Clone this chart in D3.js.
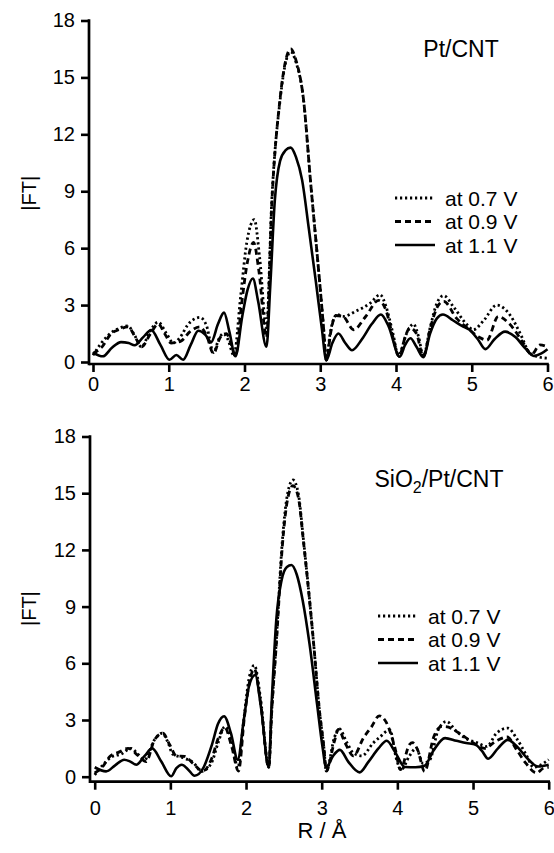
<!DOCTYPE html>
<html>
<head>
<meta charset="utf-8">
<script src="https://cdn.jsdelivr.net/npm/d3@7"></script>
<style>
  body { margin: 0; background: #fff; }
  svg text { font-family: "Liberation Sans", Arial, sans-serif; fill: #000; }
</style>
</head>
<body>
<script>
var WIDTH = 554, HEIGHT = 853

// tick values
var xTicks = [0, 1, 2, 3, 4, 5, 6]
var yTicks = [0, 3, 6, 9, 12, 15, 18]
var legendLabels = ["at 0.7 V", "at 0.9 V", "at 1.1 V"]

// Pt/CNT  [R, |FT|]
var top07 = [[0,0.35],[0.11,1.0],[0.26,1.6],[0.36,1.8],[0.46,1.9],[0.55,1.4],[0.64,0.8],[0.75,1.6],[0.86,2.1],[0.97,1.5],[1.06,1.0],[1.15,1.3],[1.25,1.95],[1.41,2.35],[1.50,1.9],[1.59,0.5],[1.66,1.2],[1.72,1.5],[1.78,1.2],[1.86,0.35],[1.95,3.5],[2.03,6.3],[2.13,7.5],[2.20,5.5],[2.29,1.8],[2.36,8.5],[2.47,13.8],[2.55,15.9],[2.61,16.35],[2.68,15.8],[2.78,13.8],[2.87,9.6],[2.99,4.3],[3.04,2.0],[3.08,0.1],[3.13,1.5],[3.22,2.5],[3.30,2.4],[3.48,2.7],[3.66,3.1],[3.79,3.55],[3.87,2.9],[3.96,1.5],[4.03,0.35],[4.14,1.5],[4.23,2.0],[4.30,1.3],[4.36,0.3],[4.45,1.8],[4.54,3.1],[4.63,3.5],[4.76,2.9],[4.93,2.0],[5.02,1.7],[5.16,2.2],[5.33,3.0],[5.51,2.45],[5.64,1.5],[5.77,0.45],[5.9,0.25],[6.0,0.2]]
var top09 = [[0,0.45],[0.12,0.8],[0.24,1.5],[0.34,1.7],[0.46,1.85],[0.58,1.15],[0.64,0.8],[0.76,1.5],[0.86,2.0],[0.96,1.4],[1.03,1.0],[1.16,1.1],[1.28,1.6],[1.41,1.85],[1.50,1.4],[1.59,0.45],[1.68,1.3],[1.76,1.5],[1.82,1.0],[1.88,0.3],[1.96,3.0],[2.04,5.3],[2.12,6.3],[2.19,4.8],[2.29,1.3],[2.36,8.3],[2.47,13.9],[2.55,16.0],[2.61,16.5],[2.68,15.9],[2.78,13.8],[2.87,9.6],[2.99,4.3],[3.04,2.0],[3.08,0.1],[3.14,1.6],[3.2,2.45],[3.3,2.4],[3.44,1.7],[3.6,2.4],[3.77,3.25],[3.87,2.7],[3.96,1.3],[4.04,0.3],[4.12,1.3],[4.18,1.8],[4.27,1.5],[4.36,0.3],[4.46,1.9],[4.56,3.0],[4.63,3.2],[4.8,2.3],[4.97,1.7],[5.1,1.3],[5.2,1.15],[5.35,2.4],[5.5,2.0],[5.68,1.0],[5.79,0.4],[5.9,0.9],[6.0,0.8]]
var top11 = [[0,0.5],[0.13,0.3],[0.25,0.75],[0.37,1.05],[0.47,1.0],[0.55,0.88],[0.66,1.3],[0.77,1.68],[0.89,0.9],[1.01,0.12],[1.10,0.37],[1.19,0.12],[1.29,0.9],[1.39,1.65],[1.48,1.45],[1.56,1.05],[1.65,2.0],[1.73,2.6],[1.80,1.6],[1.88,0.3],[1.97,2.4],[2.04,3.8],[2.11,4.4],[2.18,3.2],[2.29,0.8],[2.34,4],[2.40,8.5],[2.47,10.6],[2.54,11.15],[2.61,11.3],[2.68,10.8],[2.76,9.6],[2.85,7.0],[2.94,4.3],[3.02,1.8],[3.08,0.1],[3.16,1.0],[3.24,1.5],[3.33,1.0],[3.42,0.62],[3.55,1.2],[3.68,2.0],[3.80,2.5],[3.90,1.9],[4.05,0.28],[4.12,0.9],[4.19,1.25],[4.27,0.8],[4.36,0.25],[4.45,1.5],[4.54,2.3],[4.62,2.5],[4.75,2.2],[4.87,1.9],[4.97,1.7],[5.08,1.2],[5.18,0.68],[5.30,1.2],[5.44,1.6],[5.58,1.3],[5.70,0.75],[5.82,0.32],[5.92,0.45],[6.0,0.67]]

// SiO2/Pt/CNT  [R, |FT|]
var bot07 = [[0,0.1],[0.11,0.63],[0.22,1.04],[0.35,1.2],[0.48,1.5],[0.57,1.2],[0.66,0.9],[0.79,1.95],[0.89,2.3],[0.97,1.8],[1.03,1.2],[1.17,1.0],[1.31,0.72],[1.41,0.28],[1.54,0.7],[1.63,1.78],[1.72,2.65],[1.82,1.78],[1.89,0.45],[1.97,3.0],[2.04,5.2],[2.11,5.9],[2.19,4.2],[2.30,0.5],[2.34,3.5],[2.40,7.2],[2.48,12.5],[2.55,15.0],[2.62,15.7],[2.69,15.0],[2.76,12.5],[2.89,7.2],[2.97,3.5],[3.03,1.5],[3.06,0.3],[3.17,2.1],[3.23,2.55],[3.33,1.83],[3.42,1.25],[3.53,1.1],[3.68,1.78],[3.77,2.1],[3.9,2.48],[3.99,0.9],[4.05,0.37],[4.16,1.1],[4.25,1.5],[4.34,0.7],[4.43,0.9],[4.54,2.48],[4.65,2.92],[4.78,2.4],[4.92,2.0],[5.05,1.8],[5.18,1.6],[5.31,2.3],[5.46,2.57],[5.58,2.0],[5.71,1.1],[5.8,0.5],[5.88,0.6],[6.0,0.9]]
var bot09 = [[0,0.2],[0.1,0.5],[0.2,1.07],[0.32,1.3],[0.44,1.5],[0.58,1.1],[0.68,0.8],[0.79,1.95],[0.9,2.3],[0.99,1.7],[1.08,1.1],[1.19,1.07],[1.3,0.7],[1.43,0.3],[1.55,1.0],[1.63,2.0],[1.72,2.6],[1.81,1.6],[1.9,0.3],[1.98,3.2],[2.05,5.1],[2.11,5.7],[2.19,4.0],[2.30,0.5],[2.34,3.5],[2.40,7.0],[2.48,12.2],[2.55,14.7],[2.62,15.4],[2.69,14.8],[2.76,12.4],[2.89,7.2],[2.97,3.5],[3.03,1.5],[3.06,0.3],[3.17,1.9],[3.22,2.5],[3.31,1.78],[3.42,1.1],[3.55,2.04],[3.66,2.65],[3.76,3.22],[3.85,2.9],[3.97,1.5],[4.04,0.37],[4.16,1.7],[4.2,1.8],[4.27,1.4],[4.36,0.28],[4.48,2.1],[4.58,2.65],[4.63,2.65],[4.82,2.3],[5.0,1.8],[5.15,1.5],[5.31,1.9],[5.45,2.1],[5.58,1.4],[5.7,0.7],[5.84,0.2],[5.93,0.45],[6.0,0.5]]
var bot11 = [[0,0.5],[0.15,0.28],[0.27,0.6],[0.39,0.9],[0.47,0.8],[0.55,0.63],[0.66,1.1],[0.76,1.5],[0.88,0.8],[1.01,0.02],[1.08,0.45],[1.15,0.63],[1.23,0.4],[1.32,0.05],[1.44,0.5],[1.55,1.7],[1.63,2.8],[1.71,3.2],[1.80,2.3],[1.89,0.9],[1.97,3.0],[2.04,4.8],[2.12,5.38],[2.20,3.6],[2.30,0.5],[2.34,4],[2.40,8.3],[2.47,10.4],[2.54,11.1],[2.60,11.2],[2.67,10.7],[2.75,9.3],[2.84,7.0],[2.94,3.8],[3.01,1.6],[3.06,0.5],[3.15,1.1],[3.24,1.42],[3.35,0.8],[3.50,0.23],[3.62,0.8],[3.75,1.5],[3.86,1.9],[3.97,1.3],[4.10,0.51],[4.24,0.5],[4.36,0.58],[4.48,1.4],[4.63,2.04],[4.78,1.9],[4.91,1.78],[5.03,1.7],[5.12,1.35],[5.2,0.95],[5.33,1.5],[5.46,1.95],[5.58,1.6],[5.71,1.0],[5.86,0.54],[6.0,0.63]]

var dashes = ["2.2,2.8", "6,4", null]

var svg = d3.select('body').append('svg')
	.attr('width', WIDTH)
	.attr('height', HEIGHT)

var panels = [
	{series: [top07, top09, top11],
	 xr: [93, 547.5], yr: [362, 20.5], axisX: 89, axisY: 364, labelPad: 5,
	 legX: 395, legY: 198},
	{series: [bot07, bot09, bot11],
	 xr: [94.7, 548.7], yr: [776.7, 436.5], axisX: 90, axisY: 781.7, labelPad: 11,
	 legX: 378, legY: 616}
]

panels.forEach(function(p){
	var x = d3.scaleLinear().domain([0, 6]).range(p.xr)
	var y = d3.scaleLinear().domain([0, 18]).range(p.yr)
	var g = svg.append('g')

	// y axis
	var ya = g.append('g')
		.attr('transform', 'translate(' + p.axisX + ',0)')
		.call(d3.axisLeft(y).tickValues(yTicks).tickFormat(d3.format('d'))
			.tickSize(8).tickSizeOuter(0).tickPadding(6))
	ya.select('.domain').remove()
	ya.selectAll('line').attr('stroke-width', 2.6)
	ya.selectAll('text').style('font-size', '20px')
	ya.append('line')
		.attr('x1', 0).attr('x2', 0)
		.attr('y1', y(18) - 1.3).attr('y2', p.axisY + 1.3)
		.attr('stroke', '#000').attr('stroke-width', 2.7)

	// x axis
	var xa = g.append('g')
		.attr('transform', 'translate(0,' + p.axisY + ')')
		.call(d3.axisBottom(x).tickValues(xTicks).tickFormat(d3.format('d'))
			.tickSize(8).tickSizeOuter(0).tickPadding(p.labelPad))
	xa.select('.domain').remove()
	xa.selectAll('line').attr('stroke-width', 2.6)
	xa.selectAll('text').style('font-size', '20px')
	xa.append('line')
		.attr('x1', p.axisX).attr('x2', x(6) + 1.3)
		.attr('y1', 0).attr('y2', 0)
		.attr('stroke', '#000').attr('stroke-width', 2.7)

	var line = d3.line()
		.x(function(d){ return x(d[0]) })
		.y(function(d){ return y(d[1]) })
		.curve(d3.curveMonotoneX)

	p.series.forEach(function(s, i){
		g.append('path')
			.datum(s)
			.attr('d', line)
			.attr('fill', 'none')
			.attr('stroke', '#000')
			.attr('stroke-width', i == 2 ? 2.6 : 2.8)
			.attr('stroke-dasharray', dashes[i])
	})

	// legend
	legendLabels.forEach(function(t, i){
		var ly = p.legY + i * 23.5
		g.append('line')
			.attr('x1', p.legX).attr('x2', p.legX + 40)
			.attr('y1', ly).attr('y2', ly)
			.attr('stroke', '#000')
			.attr('stroke-width', i == 2 ? 2.6 : 2.8)
			.attr('stroke-dasharray', dashes[i])
		g.append('text')
			.attr('x', p.legX + 50).attr('y', ly)
			.attr('dy', '0.36em')
			.style('font-size', '21px')
			.text(t)
	})

	// |FT| label
	var cy = (p.yr[0] + p.yr[1]) / 2 + 2
	g.append('text')
		.attr('transform', 'translate(36,' + cy + ') rotate(-90)')
		.attr('text-anchor', 'middle')
		.style('font-size', '20px')
		.text('|FT|')
})

// titles
svg.append('text')
	.attr('x', 461).attr('y', 57)
	.attr('text-anchor', 'middle')
	.style('font-size', '23px')
	.text('Pt/CNT')

var t2 = svg.append('text')
	.attr('x', 439).attr('y', 487)
	.attr('text-anchor', 'middle')
	.style('font-size', '23px')
t2.append('tspan').text('SiO')
t2.append('tspan').attr('dy', 6).style('font-size', '16px').text('2')
t2.append('tspan').attr('dy', -6).text('/Pt/CNT')

svg.append('text')
	.attr('x', 322).attr('y', 838)
	.attr('text-anchor', 'middle')
	.style('font-size', '22px')
	.text('R / Å')
</script>
</body>
</html>
